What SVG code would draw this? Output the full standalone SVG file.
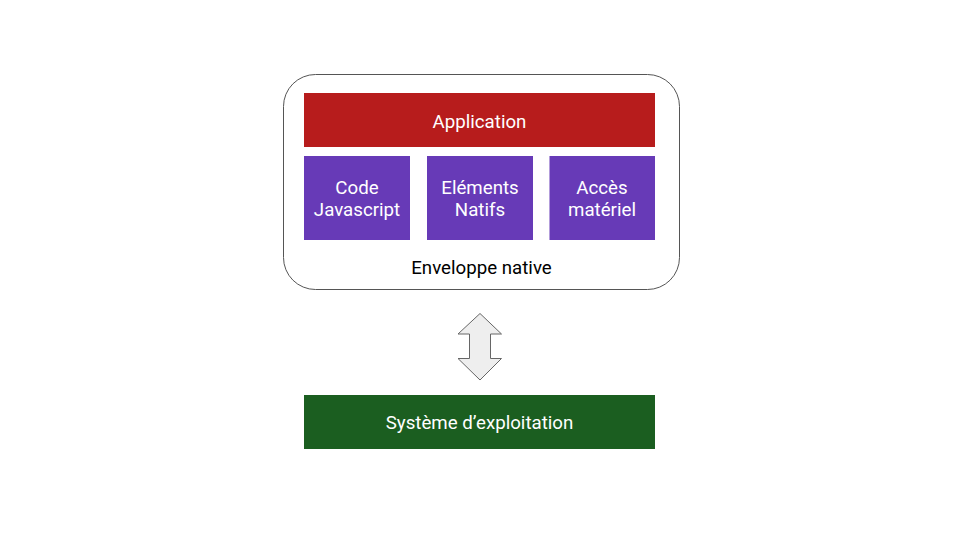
<svg xmlns="http://www.w3.org/2000/svg" width="960" height="540" viewBox="0 0 960 540">
<style>
text{font-family:Roboto,"Liberation Sans",sans-serif;font-size:18.7px;text-anchor:middle;dominant-baseline:central}
.w{fill:#ffffff}
.b{fill:#000000}
.red{fill:#B71C1C}
.pur{fill:#673AB7}
.grn{fill:#1B5E20}
</style>
<rect width="960" height="540" fill="#ffffff"/>
<g id="enveloppe">
<rect x="283.5" y="74.5" width="396" height="215" rx="32" ry="32" fill="#ffffff" stroke="#555555" stroke-width="1"/>
<text class="b" x="481.5" y="267.5">Enveloppe native</text>
</g>
<g id="application">
<rect class="red" x="304" y="93" width="351" height="54"/>
<text class="w" x="479.5" y="121.5">Application</text>
</g>
<g id="code-js">
<rect class="pur" x="304" y="156" width="106" height="84"/>
<text class="w" x="357" y="188">Code</text>
<text class="w" x="357" y="210">Javascript</text>
</g>
<g id="elements-natifs">
<rect class="pur" x="427" y="156" width="106" height="84"/>
<text class="w" x="480" y="188">Eléments</text>
<text class="w" x="480" y="210">Natifs</text>
</g>
<g id="acces-materiel">
<rect class="pur" x="549.5" y="156" width="105.5" height="84"/>
<text class="w" x="602" y="188">Accès</text>
<text class="w" x="602" y="210">matériel</text>
</g>
<g id="connectors">
<polygon points="480,313.5 501.5,334 490.5,334 490.5,358.5 501.5,358.5 480,380 458,358.5 469.5,358.5 469.5,334 458,334" fill="#EEEEEE" stroke="#666666" stroke-width="1"/>
</g>
<g id="systeme">
<rect class="grn" x="304" y="395" width="351" height="54"/>
<text class="w" x="479.5" y="422.5">Système d’exploitation</text>
</g>
</svg>
